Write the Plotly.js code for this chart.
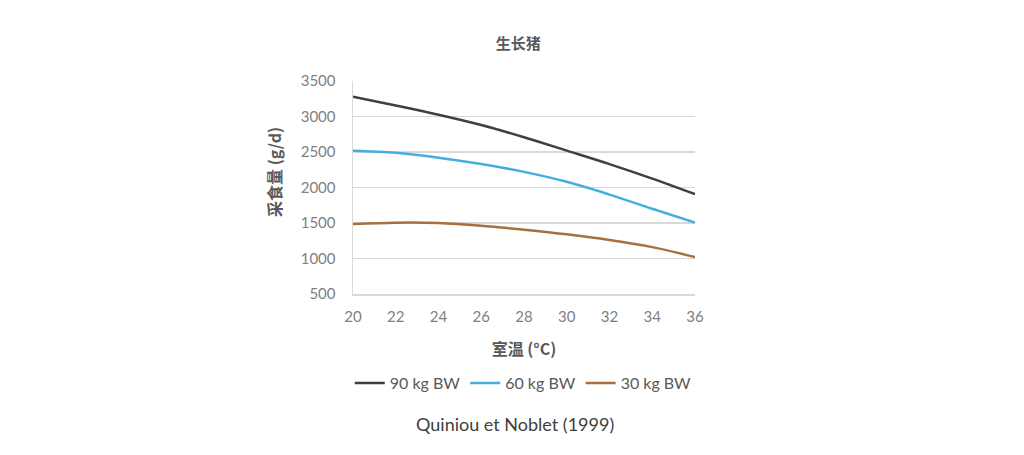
<!DOCTYPE html>
<html>
<head>
<meta charset="utf-8">
<script src="https://cdn.plot.ly/plotly-3.0.1.min.js"></script>
<style>html,body{margin:0;padding:0;background:#fff;}#chart{width:1024px;height:455px;}</style>
</head>
<body>
<div id="chart"></div>
<script>
const temps = [20, 22, 24, 26, 28, 30, 32, 34, 36];
const bw90 = [3279, 3155, 3025, 2880, 2708, 2520, 2330, 2125, 1906];
const bw60 = [2518, 2490, 2420, 2330, 2220, 2080, 1900, 1700, 1505];
const bw30 = [1485, 1505, 1500, 1462, 1405, 1340, 1260, 1160, 1020];
const seriesNames = ['90 kg BW', '60 kg BW', '30 kg BW'];
const yTicks = [500, 1000, 1500, 2000, 2500, 3000, 3500];
const xTicks = [20, 22, 24, 26, 28, 30, 32, 34, 36];

const FONT = "Lato, 'Noto Sans CJK SC', sans-serif";
const BOLD = "'Noto Sans CJK SC', Lato, sans-serif";

const traces = [
  {x: temps, y: bw90, name: seriesNames[0], mode: 'lines', line: {color: '#404040', width: 2.5, shape: 'spline'}},
  {x: temps, y: bw60, name: seriesNames[1], mode: 'lines', line: {color: '#45aee0', width: 2.5, shape: 'spline'}},
  {x: temps, y: bw30, name: seriesNames[2], mode: 'lines', line: {color: '#a5713e', width: 2.5, shape: 'spline'}}
];

const layout = {
  width: 1024, height: 455,
  margin: {l: 353, r: 329, t: 81, b: 161, autoexpand: false},
  paper_bgcolor: '#fff', plot_bgcolor: '#fff',
  font: {family: FONT, color: '#7f7f7f', size: 15},
  title: {text: '<b>生长猪</b>', font: {family: BOLD, size: 15, color: '#595959'}, x: 0.506, xanchor: 'center', y: 0.903, yanchor: 'middle'},
  xaxis: {
    range: [20, 36], tickvals: xTicks, ticktext: xTicks.map(String), tickangle: 0,
    showgrid: false, zeroline: false, showline: true, linecolor: '#d9d9d9', linewidth: 1.5,
    ticks: '', ticklabelstandoff: 8,
    tickfont: {family: FONT, size: 15, color: '#7f7f7f'},
    title: {text: '<b>室温 (°C)</b>', font: {family: BOLD, size: 16, color: '#595959'}, standoff: 20}
  },
  yaxis: {
    range: [500, 3500], tickvals: yTicks, ticktext: yTicks.map(String),
    showgrid: true, gridcolor: '#d9d9d9', gridwidth: 1.5, zeroline: false,
    showline: true, linecolor: '#d9d9d9', linewidth: 1.5,
    ticks: '', ticklabelstandoff: 13,
    tickfont: {family: FONT, size: 15, color: '#7f7f7f'}
  },
  showlegend: true,
  legend: {
    orientation: 'h', xref: 'container', x: 0.511, xanchor: 'center',
    yref: 'paper', y: -0.418, yanchor: 'middle',
    font: {family: FONT, size: 16, color: '#595959'},
    itemwidth: 30
  },
  annotations: [
    {
      text: 'Quiniou et Noblet (1999)', xref: 'paper', yref: 'paper',
      x: 0.474, y: -0.61, xanchor: 'center', yanchor: 'middle', showarrow: false,
      font: {family: FONT, size: 18, color: '#404040'}
    },
    {
      text: '<b>采食量 (g/d)</b>', xref: 'paper', yref: 'paper',
      x: -(353 - 274) / 342, y: (294 - 172) / 213, xanchor: 'center', yanchor: 'middle',
      textangle: -90, showarrow: false,
      font: {family: BOLD, size: 16, color: '#595959'}
    }
  ]
};

Plotly.newPlot('chart', traces, layout, {displayModeBar: false, staticPlot: true});
</script>
</body>
</html>
